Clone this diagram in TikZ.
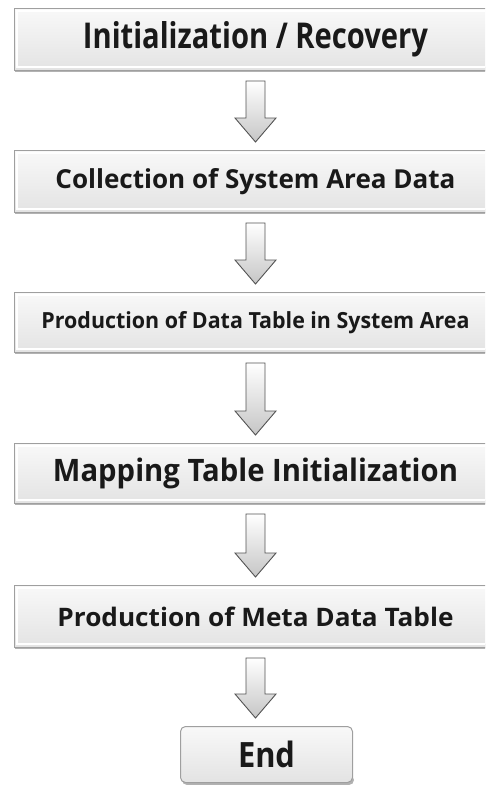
\documentclass[tikz,border=0pt]{standalone}
\usepackage{fontspec}
\setmainfont{Open Sans}
\usetikzlibrary{calc}
\tikzset{
  stepbox/.style={rectangle, minimum width=482pt, inner sep=0pt, anchor=north west,
    top color=gray!5, bottom color=gray!22, draw=gray!75, line width=1pt,
    font=\bfseries, text=black!90},
  endbox/.style={stepbox, rounded corners=5pt, minimum width=172pt},
  blockarrow/.style={draw=gray!65!black, line width=0.9pt, top color=white, bottom color=gray!45},
  shadowband/.style={fill=gray!60, draw=none},
  bevel/.style={draw=white, line width=1.2pt}
}
\newcommand\flowarrow[2]{%
  \draw[blockarrow] let \p1=(#1.south), \p2=(#2.north) in
    (\x1-9.5pt,\y1-10pt) -- (\x1+9.5pt,\y1-10pt) -- (\x1+9.5pt,\y2+32pt)
    -- (\x1+20.5pt,\y2+32pt) -- (\x1,\y2+8pt) -- (\x1-20.5pt,\y2+32pt)
    -- (\x1-9.5pt,\y2+32pt) -- cycle;}
\newcommand\innerbevel[1]{%
  \draw[bevel] ($(#1.north west)+(3,3)$) rectangle ($(#1.south east)+(-3,-4)$);}
\begin{document}
\begin{tikzpicture}[x=1pt,y=-1pt]
\useasboundingbox (0,0) rectangle (485,785);
\clip (0,0) rectangle (485,785);
% shadows
\fill[shadowband] (15,67) rectangle (497,72);
\fill[shadowband] (15,209) rectangle (497,214);
\fill[shadowband] (15,349) rectangle (497,354);
\fill[shadowband] (15,500) rectangle (497,505);
\fill[shadowband] (15,644) rectangle (497,649);
\fill[shadowband, rounded corners=5pt] (182,775) rectangle (354,785);
\node[stepbox, minimum height=62pt] (b1) at (14,8) {\resizebox{345pt}{27pt}{Initialization / Recovery}};
\node[stepbox, minimum height=62pt] (b2) at (14,150) {\resizebox{400pt}{20pt}{Collection of System Area Data}};
\node[stepbox, minimum height=60pt] (b3) at (14,292) {\resizebox{428pt}{17pt}{Production of Data Table in System Area}};
\node[stepbox, minimum height=60pt] (b4) at (14,443) {\resizebox{405pt}{23.5pt}{Mapping Table Initialization}};
\node[stepbox, minimum height=62pt] (b5) at (14,585) {\resizebox{396pt}{19.5pt}{Production of Meta Data Table}};
\node[endbox, minimum height=56pt] (e) at (180,726) {\resizebox{57pt}{26.5pt}{End}};
\innerbevel{b1}
\innerbevel{b2}
\innerbevel{b3}
\innerbevel{b4}
\innerbevel{b5}
\flowarrow{b1}{b2}
\flowarrow{b2}{b3}
\flowarrow{b3}{b4}
\flowarrow{b4}{b5}
\flowarrow{b5}{e}
\end{tikzpicture}
\end{document}
